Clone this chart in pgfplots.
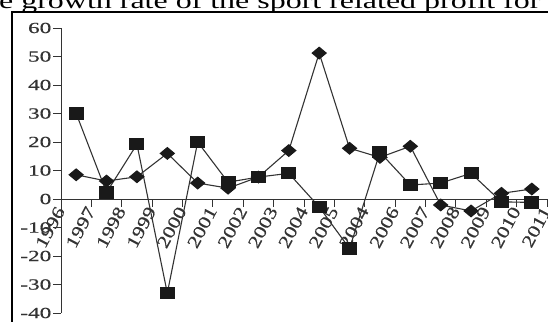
\documentclass[border=0pt]{standalone}
\usepackage{fontspec}
\setmainfont{Liberation Serif}[FakeStretch=1.5, FakeBold=0.6]
\newfontfamily\titlefont{Liberation Serif}[FakeStretch=1.42]
\newfontfamily\xlabfont{Liberation Serif}[FakeStretch=1.25, FakeBold=0.6]
\usepackage{pgfplots}
\pgfplotsset{compat=1.18}
\begin{document}
\begin{tikzpicture}
\useasboundingbox (0,0) rectangle (548bp,322bp);
\clip (0,0) rectangle (548bp,322bp);
\node[anchor=base west, inner sep=0pt] at (-1bp,313.5bp) {\fontsize{22.5bp}{26bp}\selectfont\titlefont e growth rate of the sport related profit for};
\draw[line width=2bp, black] (12bp,0bp) -- (12bp,310bp) -- (560bp,310bp);
\begin{axis}[
  at={(61bp,9bp)}, anchor=south west,
  scale only axis, width=486bp, height=285bp,
  xmin=0, xmax=16, ymin=-40, ymax=60,
  clip=false,
  axis x line=middle, axis y line=left,
  hide obscured x ticks=false, hide obscured y ticks=false,
  axis line style={-, black!80, line width=0.9bp},
  tick style={black!80, line width=0.9bp},
  tick align=outside,
  major tick length=8bp,
  xtick={0,...,16},
  xticklabels={1996,1997,1998,1999,2000,2001,2002,2003,2004,2005,2004,2006,2007,2008,2009,2010,2011},
  ytick={-40,-30,...,60},
  /pgf/number format/assume math mode=true,
  yticklabel style={font=\fontsize{15.5bp}{17bp}\selectfont, text=black!80, anchor=east, inner sep=1.5bp},
  xticklabel style={font=\fontsize{17.5bp}{19bp}\selectfont\xlabfont, text=black!80, rotate=62, anchor=east, inner sep=1bp},
]
\addplot[color=black!80, line width=1.1bp, mark=diamond*, mark size=5.8bp,
  mark options={xscale=1.6, fill=black!90, draw=black!90}]
  coordinates {(0.5,8.5) (1.5,6.3) (2.5,7.8) (3.5,16) (4.5,5.6) (5.5,3.8) (6.5,7.7) (7.5,17)
  (8.5,51.2) (9.5,17.8) (10.5,14.6) (11.5,18.5) (12.5,-2.1) (13.5,-4.2) (14.5,2) (15.5,3.5)};
\addplot[color=black!80, line width=1.1bp, mark=square*, mark size=7bp,
  mark options={yscale=0.8, fill=black!90, draw=black!90}]
  coordinates {(0.5,30) (1.5,2.3) (2.5,19.2) (3.5,-33) (4.5,20) (5.5,5.9) (6.5,7.7) (7.5,9)
  (8.5,-2.8) (9.5,-17.4) (10.5,16.4) (11.5,4.9) (12.5,5.6) (13.5,9) (14.5,-1) (15.5,-1.2)};
\end{axis}
\end{tikzpicture}
\end{document}
